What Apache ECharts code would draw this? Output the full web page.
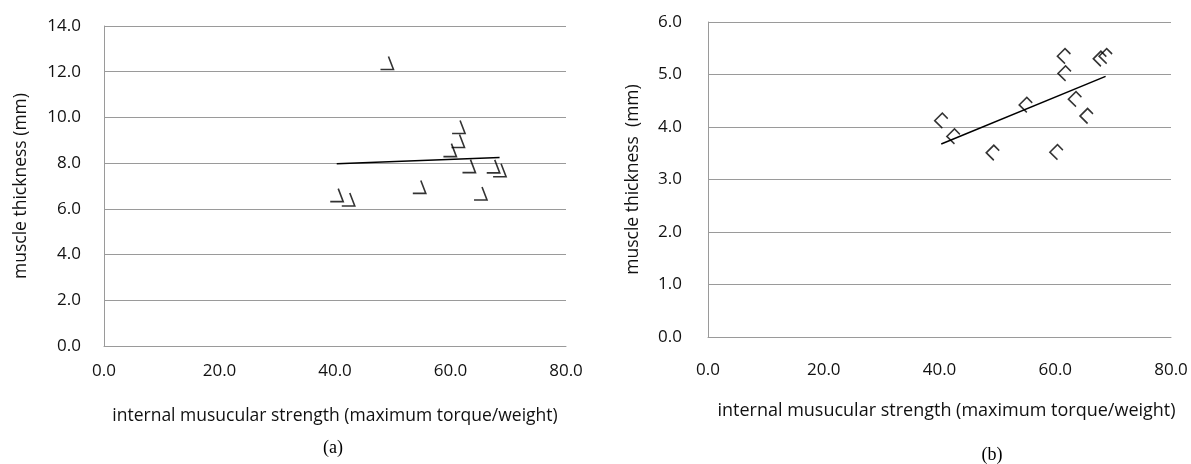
<!DOCTYPE html>
<html>
<head>
<meta charset="utf-8">
<script src="https://cdn.jsdelivr.net/npm/echarts@6/dist/echarts.min.js"></script>
<style>
html,body{margin:0;padding:0;background:#fff;}
#chart{width:1191px;height:464px;}
</style>
</head>
<body>
<div id="chart"></div>
<script>
// ---- data ----
var xTicks = [0, 20, 40, 60, 80];
var strengthA = [49.0, 61.4, 61.3, 59.9, 63.2, 67.4, 68.5, 40.3, 42.3, 54.6, 65.2];
var thicknessA = [12.38, 9.58, 8.97, 8.57, 7.87, 7.86, 7.69, 6.60, 6.41, 6.96, 6.67];
var strengthB = [49.2, 61.5, 61.6, 60.2, 63.4, 67.7, 68.7, 40.3, 42.4, 54.9, 65.4];
var thicknessB = [3.51, 5.35, 5.02, 3.52, 4.53, 5.30, 5.35, 4.12, 3.82, 4.42, 4.21];
var xName = 'internal musucular strength (maximum torque/weight)';
var yNameA = 'muscle thickness (mm)';
var yNameB = 'muscle thickness  (mm)';
var captionA = '(a)';
var captionB = '(b)';

function pairs(xs, ys){ return xs.map(function(x,i){ return [x, ys[i]]; }); }
function trend(xs, ys){
  var n = xs.length, sx=0, sy=0, sxx=0, sxy=0;
  for (var i=0;i<n;i++){ sx+=xs[i]; sy+=ys[i]; sxx+=xs[i]*xs[i]; sxy+=xs[i]*ys[i]; }
  var b = (n*sxy - sx*sy)/(n*sxx - sx*sx);
  var a = (sy - b*sx)/n;
  var x0 = Math.min.apply(null, xs), x1 = Math.max.apply(null, xs);
  return [[x0, a+b*x0],[x1, a+b*x1]];
}

var FONT = 'Open Sans';
var TXT = '#111';
var GRIDC = '#9a9a9a';
var TICKFS = 17;

function xAxisCfg(gi, margin, nameGap, nameFs, namePad){
  return {
    type:'value', gridIndex: gi, min:0, max:80, interval:20,
    axisLine:{show:true, lineStyle:{color:GRIDC, width:1}},
    axisTick:{show:false},
    splitLine:{show:false},
    axisLabel:{color:TXT, fontFamily:FONT, fontSize:TICKFS, margin:margin,
      formatter:function(v){ return v.toFixed(1); }},
    name: xName, nameLocation:'middle', nameGap:nameGap,
    nameTextStyle:{color:TXT, fontFamily:FONT, fontSize:nameFs, padding:namePad}
  };
}
function yAxisCfg(gi, max, interval, margin, nameGap, name){
  return {
    type:'value', gridIndex: gi, min:0, max:max, interval:interval,
    axisLine:{show:true, lineStyle:{color:GRIDC, width:1}},
    axisTick:{show:false},
    splitLine:{show:true, lineStyle:{color:GRIDC, width:1}},
    axisLabel:{color:TXT, fontFamily:FONT, fontSize:TICKFS, margin:margin,
      formatter:function(v){ return v.toFixed(1); }},
    name: name, nameLocation:'middle', nameGap:nameGap, nameRotate:90,
    nameTextStyle:{color:TXT, fontFamily:FONT, fontSize:17.5}
  };
}

var symA = 'path://M8,0 L13,13 L0,13';
var symB = 'path://M12,5 L7,0 L0,7 L7,14';

var chart = echarts.init(document.getElementById('chart'), null, {renderer:'canvas'});
chart.setOption({
  animation:false,
  backgroundColor:'#fff',
  grid:[
    {left:104, top:26, width:462, height:320},
    {left:708, top:22, width:463, height:315}
  ],
  xAxis:[ xAxisCfg(0, 17, 61, 17.5, [0,0,0,0]), xAxisCfg(1, 25, 65, 18, [0,0,0,14]) ],
  yAxis:[ yAxisCfg(0, 14, 2, 23, 74, yNameA), yAxisCfg(1, 6, 1, 26, 66, yNameB) ],
  series:[
    {type:'scatter', xAxisIndex:0, yAxisIndex:0, data:pairs(strengthA, thicknessA),
     symbol:symA, symbolSize:[13,13], symbolKeepAspect:false,
     itemStyle:{color:'rgba(0,0,0,0)', borderColor:'#000', borderWidth:1.6}},
    {type:'line', xAxisIndex:0, yAxisIndex:0, data:trend(strengthA, thicknessA),
     symbol:'none', lineStyle:{color:'#000', width:1.5}},
    {type:'scatter', xAxisIndex:1, yAxisIndex:1, data:pairs(strengthB, thicknessB),
     symbol:symB, symbolSize:[13,15], symbolKeepAspect:false,
     itemStyle:{color:'rgba(0,0,0,0)', borderColor:'#000', borderWidth:1.6}},
    {type:'line', xAxisIndex:1, yAxisIndex:1, data:trend(strengthB, thicknessB),
     symbol:'none', lineStyle:{color:'#000', width:1.5}}
  ],
  graphic:[
    {type:'text', x:333, y:448, style:{text:captionA, fill:'#000', font:'18px "Liberation Serif"', align:'center', verticalAlign:'middle'}},
    {type:'text', x:992, y:455, style:{text:captionB, fill:'#000', font:'18px "Liberation Serif"', align:'center', verticalAlign:'middle'}}
  ]
});
</script>
</body>
</html>
